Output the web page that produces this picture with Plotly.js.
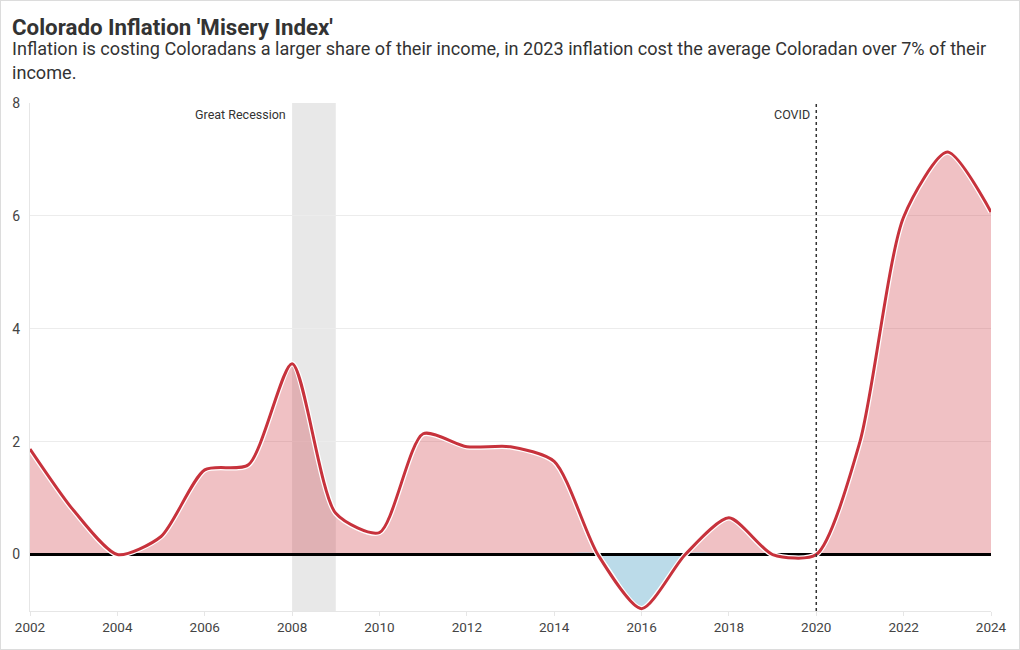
<!DOCTYPE html>
<html>
<head>
<meta charset="utf-8">
<script src="https://cdn.plot.ly/plotly-3.0.1.min.js"></script>
<style>
  html, body { margin: 0; padding: 0; background: #fff; }
  #wrap { width: 1018px; height: 648px; border: 1px solid #dcdcdc; }
  #chart { width: 1018px; height: 648px; }
</style>
</head>
<body>
<div id="wrap"><div id="chart"></div></div>
<script>
// Data
const years = [2002, 2003, 2004, 2005, 2006, 2007, 2008, 2009, 2010, 2011, 2012, 2013,
               2014, 2015, 2016, 2017, 2018, 2019, 2020, 2021, 2022, 2023, 2024];
const miseryIndex = [1.87, 0.78, 0.0, 0.32, 1.5, 1.59, 3.38, 0.73, 0.39, 2.14, 1.91, 1.91,
                     1.65, 0.0, -0.96, 0.0, 0.65, 0.0, 0.0, 2.0, 5.98, 7.13, 6.07];
const xTicks = [2002, 2004, 2006, 2008, 2010, 2012, 2014, 2016, 2018, 2020, 2022, 2024];
const yTicks = [0, 2, 4, 6, 8];
const recession = [2008, 2009];
const covidYear = 2020;

const titleText = "Colorado Inflation 'Misery Index'";
const subtitleText = "Inflation is costing Coloradans a larger share of their income, in 2023 inflation cost the average Coloradan over 7% of their<br>income.";

const positive = miseryIndex.map(v => Math.max(v, 0));
const negative = miseryIndex.map(v => Math.min(v, 0));
const FONT = "Roboto, 'Noto Sans', sans-serif";
const SMOOTH = 0.7;

const traces = [
  { x: years, y: positive, type: 'scatter', mode: 'lines', fill: 'tozeroy',
    fillcolor: 'rgba(205,50,60,0.3)', line: { width: 0, shape: 'spline', smoothing: SMOOTH },
    hoverinfo: 'skip', showlegend: false },
  { x: years, y: negative, type: 'scatter', mode: 'lines', fill: 'tozeroy',
    fillcolor: 'rgb(187,219,233)', line: { width: 0, shape: 'spline', smoothing: SMOOTH },
    hoverinfo: 'skip', showlegend: false },
  { x: [years[0], years[years.length - 1]], y: [0, 0], type: 'scatter', mode: 'lines',
    line: { color: '#000', width: 3 }, hoverinfo: 'skip', showlegend: false },
  { x: years, y: miseryIndex, type: 'scatter', mode: 'lines',
    line: { color: '#ffffff', width: 5.5, shape: 'spline', smoothing: SMOOTH },
    hoverinfo: 'skip', showlegend: false },
  { x: years, y: miseryIndex, type: 'scatter', mode: 'lines',
    line: { color: 'rgb(199,50,60)', width: 3, shape: 'spline', smoothing: SMOOTH },
    hoverinfo: 'skip', showlegend: false }
];

const layout = {
  width: 1018, height: 648,
  margin: { l: 29, r: 28, t: 102, b: 38 },
  paper_bgcolor: '#fff', plot_bgcolor: '#fff',
  font: { family: FONT, color: '#444', size: 13.5 },
  title: {
    text: '<b>' + titleText + '</b>',
    font: { family: FONT, size: 22.3, color: '#333' },
    x: 11 / 1018, xanchor: 'left', xref: 'container',
    y: 1 - 18 / 648, yanchor: 'top', yref: 'container'
  },
  xaxis: {
    range: [years[0], years[years.length - 1]],
    tickvals: xTicks, ticktext: xTicks.map(String),
    showgrid: false, zeroline: false,
    showline: true, linecolor: '#e6e6e6', linewidth: 1,
    ticks: 'outside', ticklen: 4, tickcolor: '#e6e6e6',
    tickfont: { family: FONT, size: 13.5, color: '#444' }
  },
  yaxis: {
    range: [-1, 8],
    tickvals: yTicks, ticktext: yTicks.map(String),
    showgrid: true, gridcolor: '#ececec', gridwidth: 1, zeroline: false,
    showline: true, linecolor: '#e6e6e6', linewidth: 1,
    ticks: '', ticklabelstandoff: 6,
    tickfont: { family: FONT, size: 14, color: '#444' }
  },
  shapes: [
    { type: 'rect', xref: 'x', yref: 'paper', x0: recession[0], x1: recession[1], y0: 0, y1: 1,
      fillcolor: '#e8e8e8', line: { width: 0 }, layer: 'below' },
    { type: 'line', xref: 'x', yref: 'paper', x0: covidYear, x1: covidYear, y0: 0, y1: 1,
      line: { color: '#333', width: 1.5, dash: 'dot' }, layer: 'above' }
  ],
  annotations: [
    { text: subtitleText, xref: 'paper', yref: 'paper', x: 0, y: 1,
      xanchor: 'left', yanchor: 'top', align: 'left', xshift: -20, yshift: 67,
      showarrow: false, font: { family: FONT, size: 18.1, color: '#333' } },
    { text: 'Great Recession', xref: 'x', yref: 'paper', x: recession[0], y: 1,
      xanchor: 'right', yanchor: 'top', xshift: -4, yshift: -2, showarrow: false,
      font: { family: FONT, size: 12.5, color: '#333' } },
    { text: 'COVID', xref: 'x', yref: 'paper', x: covidYear, y: 1,
      xanchor: 'right', yanchor: 'top', xshift: -4, yshift: -2, showarrow: false,
      font: { family: FONT, size: 12.5, color: '#333' } }
  ],
  showlegend: false,
  hovermode: false
};

Plotly.newPlot('chart', traces, layout, { staticPlot: true, displayModeBar: false });
</script>
</body>
</html>
